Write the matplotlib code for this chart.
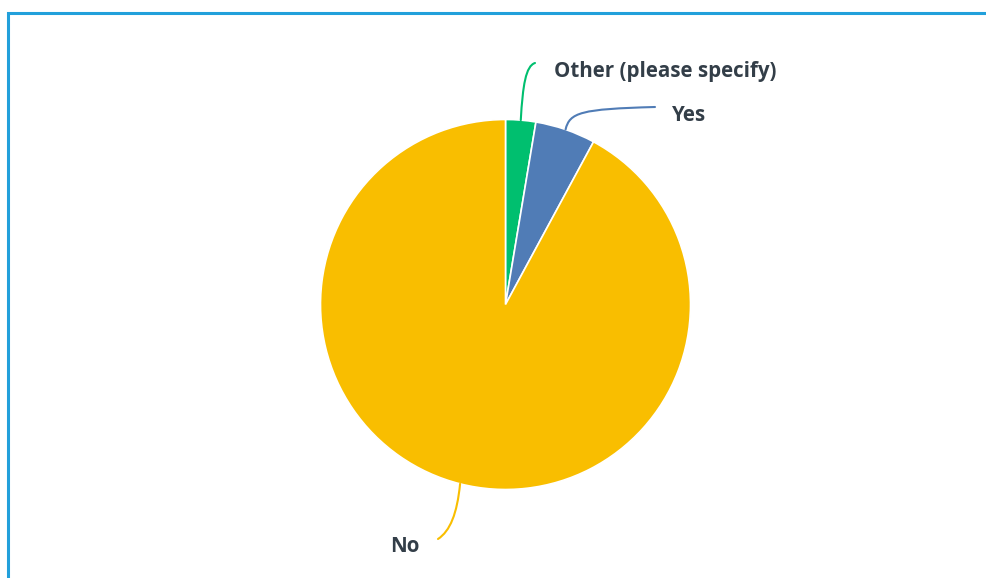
import numpy as np
import matplotlib.pyplot as plt
from matplotlib.path import Path
from matplotlib.patches import PathPatch, Rectangle

# survey answers, clockwise from 12 o'clock
labels = ['Other (please specify)', 'Yes', 'No']
counts = [1, 2, 35]
colors = ['#00bf6f', '#507cb6', '#f9be00']

W, H = 987, 578
cx, cy, R = 505.5, H - 304.5, 185

fig = plt.figure(figsize=(W / 100, H / 100), dpi=100)
ax = fig.add_axes([0, 0, 1, 1])

wedges, _ = ax.pie(counts, colors=colors, startangle=90, counterclock=False,
                   center=(cx, cy), radius=R, frame=True,
                   wedgeprops=dict(edgecolor='white', linewidth=1.2))
ax.set_xlim(0, W)
ax.set_ylim(0, H)
ax.set_aspect('equal')
ax.axis('off')

# frame border (right/bottom fall outside the canvas)
ax.add_patch(Rectangle((8, -20), W + 20, H - 13 + 20, fill=False,
                       edgecolor='#22a0db', linewidth=2.2, clip_on=False))

# label anchor (text left edge / centre) and leader end points
label_pos = {
    'Other (please specify)': ((554, H - 71), (535, H - 63)),
    'Yes': ((672, H - 115), (655, H - 107)),
    'No': ((390, H - 546), (438, H - 539)),
}

total = sum(counts)
cum = 0
for lab, n, col in zip(labels, counts, colors):
    mid = 90 - (cum + n / 2) / total * 360
    cum += n
    th = np.deg2rad(mid)
    sx, sy = cx + R * np.cos(th), cy + R * np.sin(th)
    (tx, ty), (ex, ey) = label_pos[lab]
    if lab == 'Yes':
        verts = [(sx, sy), (sx + 4, sy + 17), (sx + 15, ey - 2), (ex, ey)]
    elif lab == 'No':
        verts = [(sx, sy), (sx - 3, sy - 30), (sx - 10, ey + 8), (ex, ey)]
    else:
        verts = [(sx, sy), (sx + 2, sy + 35), (sx + 5, ey - 3), (ex, ey)]
    path = Path(verts, [Path.MOVETO, Path.CURVE4, Path.CURVE4, Path.CURVE4])
    ax.add_patch(PathPatch(path, fill=False, edgecolor=col, linewidth=1.5,
                           capstyle='round'))
    ax.text(tx, ty, lab, ha='left', va='center', fontsize=14.8,
            fontfamily='Open Sans', fontweight='bold', color='#333e48')

fig.savefig('out.png', dpi=100)
